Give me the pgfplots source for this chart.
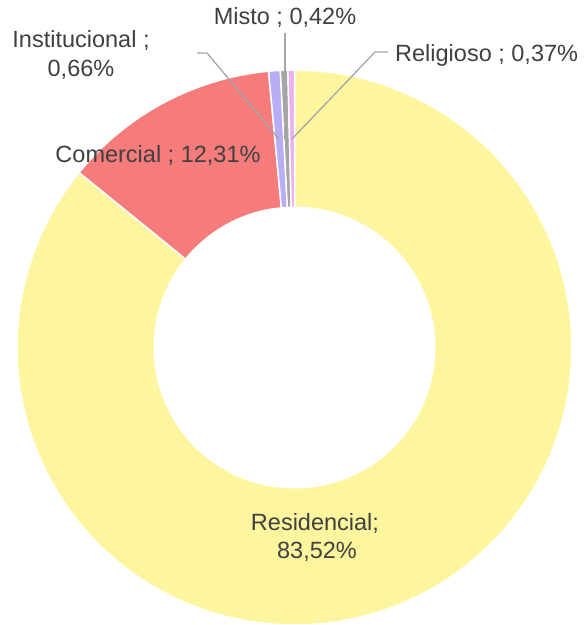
\documentclass[border=0pt]{standalone}
\usepackage{pgfplots}
\pgfplotsset{compat=1.18}
\usepackage{fontspec}
\setmainfont{Liberation Sans}
\definecolor{cres}{RGB}{253,246,158}
\definecolor{ccom}{RGB}{246,123,123}
\definecolor{cins}{RGB}{184,174,246}
\definecolor{cmis}{RGB}{165,165,165}
\definecolor{crel}{RGB}{236,176,240}
\definecolor{ctxt}{RGB}{64,64,64}
\definecolor{cline}{RGB}{166,166,166}
\tikzset{lbl/.style={font=\fontsize{23.5}{28}\selectfont, text=ctxt, inner sep=0pt}}
\begin{document}
\begin{tikzpicture}
% values (percent)
\def\vRes{83.52}\def\vCom{12.31}\def\vIns{0.66}\def\vMis{0.42}\def\vRel{0.37}
\pgfmathsetmacro\tot{\vRes+\vCom+\vIns+\vMis+\vRel}
\pgfmathsetmacro\aA{\vRes/\tot*360}
\pgfmathsetmacro\aB{\aA+\vCom/\tot*360}
\pgfmathsetmacro\aC{\aB+\vIns/\tot*360}
\pgfmathsetmacro\aD{\aC+\vMis/\tot*360}
\pgfmathsetmacro\aE{\aD+\vRel/\tot*360}
\begin{axis}[
  scale only axis, width=586pt, height=625pt,
  xmin=0, xmax=586, ymin=0, ymax=625,
  hide axis, clip=false, anchor=south west, at={(0,0)},
]
\addplot[fill=cres, draw=white, line width=1.5pt, domain=0:\aA, samples=300, variable=\t]
  ({294.5+277.5*sin(\t)},{277.5+277.5*cos(\t)}) -- (axis cs:294.5,277.5) -- cycle;
\addplot[fill=ccom, draw=white, line width=1.5pt, domain=\aA:\aB, samples=100, variable=\t]
  ({294.5+277.5*sin(\t)},{277.5+277.5*cos(\t)}) -- (axis cs:294.5,277.5) -- cycle;
\addplot[fill=cins, draw=white, line width=1.5pt, domain=\aB:\aC, samples=20, variable=\t]
  ({294.5+277.5*sin(\t)},{277.5+277.5*cos(\t)}) -- (axis cs:294.5,277.5) -- cycle;
\addplot[fill=cmis, draw=white, line width=1.5pt, domain=\aC:\aD, samples=20, variable=\t]
  ({294.5+277.5*sin(\t)},{277.5+277.5*cos(\t)}) -- (axis cs:294.5,277.5) -- cycle;
\addplot[fill=crel, draw=white, line width=1.5pt, domain=\aD:\aE, samples=20, variable=\t]
  ({294.5+277.5*sin(\t)},{277.5+277.5*cos(\t)}) -- (axis cs:294.5,277.5) -- cycle;
\addplot[fill=white, draw=none, domain=0:360, samples=200, variable=\t]
  ({294.5+141*sin(\t)},{277.5+141*cos(\t)}) -- cycle;
% leader lines
\draw[cline, line width=1.3pt] (axis cs:197,572) -- (axis cs:207,572) -- (axis cs:279,486);
\draw[cline, line width=1.3pt] (axis cs:285,592) -- (axis cs:285,486);
\draw[cline, line width=1.3pt] (axis cs:388,573) -- (axis cs:375,573) -- (axis cs:292,486);
% labels
\node[lbl, anchor=base] at (axis cs:285,600) {Misto ; 0,42\%};
\node[lbl, anchor=base west] at (axis cs:395,563) {Religioso ; 0,37\%};
\node[lbl, anchor=base] at (axis cs:81,577) {Institucional ;};
\node[lbl, anchor=base] at (axis cs:81,548) {0,66\%};
\node[lbl, anchor=base] at (axis cs:158,462) {Comercial ; 12,31\%};
\node[lbl, anchor=base] at (axis cs:315,94) {Residencial;};
\node[lbl, anchor=base] at (axis cs:317,66) {83,52\%};
\end{axis}
\pgfresetboundingbox
\path[use as bounding box] (0,0) rectangle (586pt,625pt);
\end{tikzpicture}
\end{document}
